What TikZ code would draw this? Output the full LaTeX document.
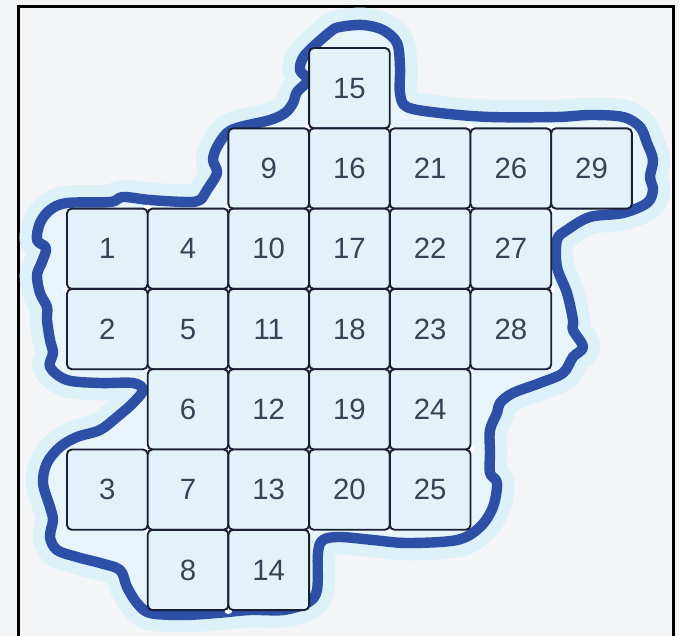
\documentclass[tikz,border=0pt]{standalone}
\usepackage{fontspec}
\setmainfont{Liberation Sans}
\definecolor{pagebg}{HTML}{F4F5F6}
\definecolor{halo}{HTML}{DCF1F8}
\definecolor{inside}{HTML}{E7F4F9}
\definecolor{cellfill}{HTML}{E3F2F8}
\definecolor{cellline}{HTML}{1A1F36}
\definecolor{blobline}{HTML}{2D50A6}
\definecolor{digit}{HTML}{3B4156}
\tikzset{
  cellbox/.style={draw=cellline, fill=cellfill, line width=1.4pt, rounded corners=3.5pt,
    minimum width=60.5pt, minimum height=60.2pt, inner sep=0pt, text=digit,
    font=\fontsize{22}{22}\selectfont},
  frameline/.style={line width=2.4pt, black},
}
\begin{document}
\begin{tikzpicture}[x=0.75pt,y=-0.75pt]
\useasboundingbox (0,0) rectangle (679,636);
\fill[pagebg] (0,0) rectangle (679,636);
% frame
\coordinate (fbl) at (18.5,640);
\coordinate (ftl) at (18.5,6.5);
\coordinate (ftr) at (673.5,6.5);
\coordinate (fbr) at (673.5,640);
\draw[frameline] (fbl) -- (ftl) -- (ftr) -- (fbr);
% blob
\def\blob{plot[smooth cycle, tension=0.55] coordinates {
(330,32) (305,55) (300,70) (308,80) (297,92) (293,103) (285,113) (270,120) (240,127) (227,133) (217,147) (213,160) (217,173) (207,190) (200,200) (187,202) (150,200) (123,197) (110,202) (67,203) (50,210) (40,223) (37,240) (46,248) (42,262) (37,275) (40,293) (47,307) (47,320) (50,340) (53,353) (50,367) (67,380) (100,383) (133,383) (143,390) (133,403) (117,417) (100,430) (77,437) (60,447) (47,463) (43,483) (50,507) (53,520) (50,537) (57,550) (77,557) (100,563) (120,570) (127,587) (137,603) (150,613) (183,615) (217,613) (250,610) (283,610) (307,603) (317,590) (318,553) (323,540) (340,537) (373,540) (407,543) (457,540) (480,527) (493,507) (497,483) (490,473) (490,453) (490,430) (497,413) (500,403) (513,393) (540,383) (563,373) (573,357) (583,347) (573,330) (573,320) (567,293) (557,267) (557,240) (567,230) (590,217) (623,213) (647,203) (653,190) (650,177) (653,160) (647,143) (640,127) (623,117) (590,115) (557,117) (490,117) (440,113) (407,107) (400,93) (400,67) (397,43) (383,30) (363,25) (340,27)}}
\draw[halo, line width=26pt, line join=round] \blob;
\fill[inside] \blob;
\draw[blobline, line width=7.8pt, line join=round] \blob;
% white dots at shared corners
\foreach \i/\j in {3/1,4/1,5/1,6/1, 1/2,2/2,3/2,4/2,5/2,6/2, 0/3,1/3,2/3,3/3,4/3,5/3,6/3,
  1/4,2/4,3/4,4/4,5/4, 1/5,2/5,3/5,4/5,5/5, 1/6,2/6,3/6,4/6, 2/7}
  \fill[white] ({67+80.7*\i},{48+80.3*\j}) circle (4);
% cells
\foreach \n/\c/\r in {15/3/0,
  9/2/1,16/3/1,21/4/1,26/5/1,29/6/1,
  1/0/2,4/1/2,10/2/2,17/3/2,22/4/2,27/5/2,
  2/0/3,5/1/3,11/2/3,18/3/3,23/4/3,28/5/3,
  6/1/4,12/2/4,19/3/4,24/4/4,
  3/0/5,7/1/5,13/2/5,20/3/5,25/4/5,
  8/1/6,14/2/6}
  \node[cellbox] (c\n) at ({107.35+80.7*\c},{88.15+80.3*\r}) {\raisebox{-1.5pt}{\n}};
\end{tikzpicture}
\end{document}
